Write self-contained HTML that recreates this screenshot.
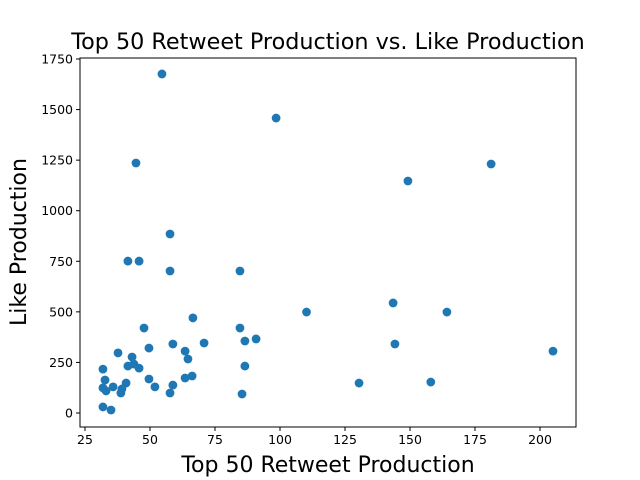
<!DOCTYPE html>
<html><head><meta charset="utf-8"><style>
html,body{margin:0;padding:0;background:#fff;}
svg{display:block;font-family:"DejaVu Sans","Liberation Sans",sans-serif;}
</style></head><body>
<svg id="chart" width="640" height="480"></svg>
<script>
const retweets = [57.7,41.5,45.8,57.7,84.6,66.5,47.7,84.6,86.5,90.8,49.6,58.8,70.8,37.7,63.5,43.1,64.6,41.5,43.8,45.8,86.5,31.9,40.8,32.7,49.6,63.5,66.2,35.8,31.9,33.1,39.2,38.8,51.9,58.8,57.7,85.4,31.9,35.0,54.6,98.5,44.6,181.2,149.2,110.2,164.2,143.5,144.2,205.0,130.4,158.0];
const likes = [885,751,751,702,702,470,420,420,356,366,321,341,346,297,306,277,267,232,242,222,232,217,148,163,168,173,183,129,124,109,119,99,129,138,99,94,30,15,1676,1458,1236,1231,1147,499,499,544,341,306,148,153];
const xTicks = [25,50,75,100,125,150,175,200];
const yTicks = [0,250,500,750,1000,1250,1500,1750];

const L=80,R=576,T=58,B=427;
const xs = v => 85 + (v-25)*2.6;
const ys = v => 413 - v*0.20229;
const svg = document.getElementById('chart');
const NS='http://www.w3.org/2000/svg';
function mk(tag, attrs, parent){const e=document.createElementNS(NS,tag);for(const k in attrs)e.setAttribute(k,attrs[k]);(parent||svg).appendChild(e);return e;}

const pts = mk('g',{});


for(let i=0;i<retweets.length;i++){
  const c = mk('circle',{cx:xs(retweets[i]),cy:ys(likes[i]),r:4.4,fill:'#1f77b4'},pts);
  
  
}
const frame = mk('rect',{x:L,y:T,width:R-L,height:B-T,fill:'none',stroke:'#000','stroke-width':1});



xTicks.forEach(t=>{
  const x=xs(t);
  const ln = mk('line',{x1:x,x2:x,y1:B,y2:B+4,stroke:'#000'});
  
  
  const tx = mk('text',{x:x,y:B+17,'text-anchor':'middle','font-size':12.5});
  tx.textContent=t;
  
  
});
yTicks.forEach(t=>{
  const y=ys(t);
  const ln = mk('line',{x1:L-4,x2:L,y1:y,y2:y,stroke:'#000'});
  
  
  const tx = mk('text',{x:L-7,y:y+4.5,'text-anchor':'end','font-size':12.5});
  tx.textContent=t;
  
  
});
const title = mk('text',{x:328,y:49,'text-anchor':'middle','font-size':22.3});
title.textContent='Top 50 Retweet Production vs. Like Production';


const xl = mk('text',{x:328,y:472,'text-anchor':'middle','font-size':22});
xl.textContent='Top 50 Retweet Production';


const yl = mk('text',{x:26,y:242,'text-anchor':'middle','font-size':22,transform:'rotate(-90 26 242)'});
yl.textContent='Like Production';


</script>
</body></html>
